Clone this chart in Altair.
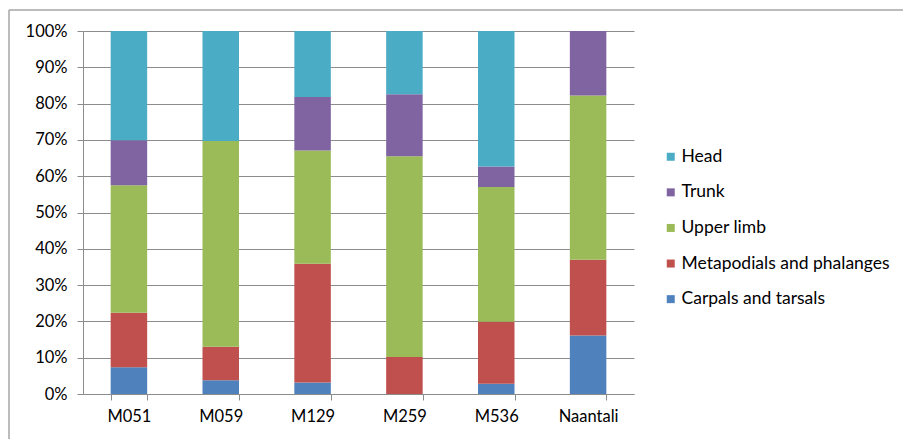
import altair as alt
import pandas as pd

# Sites (x categories)
sites = ["M051", "M059", "M129", "M259", "M536", "Naantali"]

# Share of each body part per site, in percent
carpals_tarsals = [7.4, 3.8, 3.2, 0.0, 2.8, 16.1]
metapodials_phalanges = [15.0, 9.2, 32.7, 10.2, 17.1, 20.9]
upper_limb = [35.1, 56.7, 31.2, 55.3, 37.1, 45.2]
trunk = [12.4, 0.0, 14.7, 17.1, 5.7, 17.8]
head = [30.1, 30.3, 18.2, 17.4, 37.3, 0.0]

# Series from bottom of the stack to the top
series_names = ["Carpals and tarsals", "Metapodials and phalanges",
                "Upper limb", "Trunk", "Head"]
series_values = [carpals_tarsals, metapodials_phalanges, upper_limb, trunk, head]
series_colors = ["#4F81BD", "#C0504D", "#9BBB59", "#8064A2", "#4BACC6"]

rows = []
for rank, (name, vals) in enumerate(zip(series_names, series_values)):
    for site, v in zip(sites, vals):
        rows.append({"site": site, "part": name, "pct": v, "rank": rank})
df = pd.DataFrame(rows)

FONT = "Lato"
FSIZE = 16.5
LEGEND_FSIZE = 17.5
GRID = "#8c8c8c"
TEXT = "#000000"

legend_order = list(reversed(series_names))
legend_colors = list(reversed(series_colors))

bars = alt.Chart(df).mark_bar(size=36.5).encode(
    x=alt.X("site:N", sort=sites, title=None,
            scale=alt.Scale(paddingInner=0.6, paddingOuter=0.3),
            axis=alt.Axis(labelAngle=0, tickBand="extent", domainColor=GRID,
                          tickColor=GRID, tickSize=6, labelPadding=8,
                          labelFont=FONT, labelFontSize=FSIZE, labelColor=TEXT,
                          grid=False)),
    y=alt.Y("pct:Q", stack="zero", title=None,
            scale=alt.Scale(domain=[0, 100], nice=False),
            axis=alt.Axis(values=list(range(0, 101, 10)),
                          labelExpr="datum.value + '%'",
                          domainColor=GRID, tickColor=GRID, tickSize=6,
                          gridColor=GRID, gridWidth=1, labelPadding=10,
                          labelFont=FONT, labelFontSize=FSIZE, labelColor=TEXT)),
    color=alt.Color("part:N",
                    scale=alt.Scale(domain=legend_order, range=legend_colors),
                    legend=alt.Legend(title=None, orient="none",
                                      legendX=579, legendY=117,
                                      symbolType="square", symbolSize=64,
                                      symbolStrokeWidth=0, labelLimit=0,
                                      labelFont=FONT, labelFontSize=LEGEND_FSIZE,
                                      labelColor=TEXT, labelOffset=2,
                                      rowPadding=16.6)),
    order=alt.Order("rank:Q", sort="ascending"),
)

# Chart frame: top and left edges
frame_top = alt.Chart().mark_rule(color="#a6a6a6", strokeWidth=1.5).encode(
    x=alt.value(-74), x2=alt.value(820), y=alt.value(-21))
frame_left = alt.Chart().mark_rule(color="#a6a6a6", strokeWidth=1.5).encode(
    x=alt.value(-74), y=alt.value(-21), y2=alt.value(410))

chart = alt.layer(bars, frame_top, frame_left).properties(
    width=551, height=363,
    autosize=alt.AutoSizeParams(type="none"),
    padding={"left": 83, "top": 31, "right": 269, "bottom": 45},
).configure_view(stroke=None)

chart.save("out.html", embed_options={"renderer": "svg", "actions": False})
